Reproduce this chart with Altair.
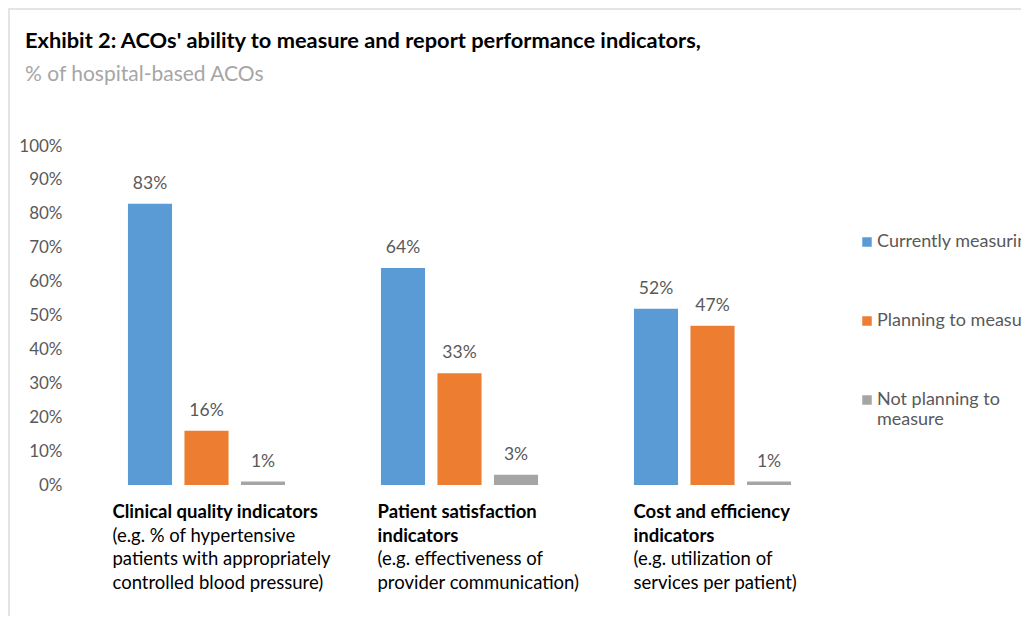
import altair as alt
import pandas as pd

groups = ["Clinical quality indicators", "Patient satisfaction indicators", "Cost and efficiency indicators"]
series = ["Currently measuring", "Planning to measure", "Not planning to measure"]
colors = ["#5B9BD5", "#ED7D31", "#A5A5A5"]
current = [83, 64, 52]
planning = [16, 33, 47]
not_planning = [1, 3, 1]

bold_lines = [["Clinical quality indicators"],
              ["Patient satisfaction", "indicators"],
              ["Cost and efficiency", "indicators"]]
detail_lines = [["(e.g. % of hypertensive", "patients with appropriately", "controlled blood pressure)"],
                ["(e.g. effectiveness of", "provider communication)"],
                ["(e.g. utilization of", "services per patient)"]]
y_ticks = list(range(0, 101, 10))

rows = []
for gi, g in enumerate(groups):
    for s, vals in zip(series, [current, planning, not_planning]):
        rows.append({"group": g, "series": s, "value": vals[gi]})
df = pd.DataFrame(rows)

W, H = 759, 339
PAD_L, PAD_T = 72, 138
TOTAL_W, TOTAL_H = 1013, 608
FONT = "Lato"
GRAY = "#595959"
LH = 23.7
FRAME_TOP = PAD_T - 1

x_scale = alt.Scale(type="band", paddingInner=0.33, paddingOuter=0.165)
x_enc = alt.X("group:N", sort=groups, axis=None, scale=x_scale)
xo_enc = alt.XOffset("series:N", sort=series,
                     scale=alt.Scale(paddingInner=0.22, paddingOuter=0.11))
y_enc = alt.Y("value:Q", scale=alt.Scale(domain=[0, 100]),
              axis=alt.Axis(values=y_ticks, labelExpr="datum.value + '%'", title=None,
                            ticks=False, domain=False, grid=False, labelPadding=18,
                            labelOverlap=False,
                            labelFontSize=17, labelColor=GRAY, labelFont=FONT))

# light frame around the exhibit (decoration)
frame = alt.Chart(pd.DataFrame({"f": [0]})).mark_rect(
    fill=None, stroke="#E4E4E4", strokeWidth=2
).encode(x=alt.value(-(PAD_L - 1)), y=alt.value(-FRAME_TOP),
         x2=alt.value(TOTAL_W + 40), y2=alt.value(TOTAL_H + 40))

base = alt.Chart(df)
bars = base.mark_bar().encode(
    x=x_enc, xOffset=xo_enc, y=y_enc,
    color=alt.Color("series:N", sort=series,
                    scale=alt.Scale(domain=series, range=colors),
                    legend=alt.Legend(title=None, orient="none", legendX=778, legendY=87,
                                      symbolType="square", symbolSize=90, symbolStrokeWidth=0,
                                      labelFontSize=18, labelColor=GRAY, labelFont=FONT,
                                      labelOffset=1, rowPadding=61, labelLimit=400,
                                      labelExpr="datum.label == 'Not planning to measure' ? ['Not planning to', 'measure'] : datum.label")),
)
labels = base.mark_text(baseline="alphabetic", dy=-15, fontSize=17.5, color=GRAY, font=FONT).encode(
    x=x_enc, xOffset=xo_enc, y=y_enc,
    text=alt.Text("label:N"),
).transform_calculate(label="datum.value + '%'")

label_dx = [-94, -82, -79]
layers = [frame, bars, labels]
for gi, g in enumerate(groups):
    ldf = pd.DataFrame({"group": [g], "bold": ["\n".join(bold_lines[gi])],
                        "detail": ["\n".join(detail_lines[gi])]})
    lb = alt.Chart(ldf).mark_text(align="left", baseline="top", dx=label_dx[gi], fontSize=18.5,
                                  fontWeight="bold", font=FONT, color="black",
                                  lineBreak="\n", lineHeight=LH).encode(
        x=x_enc, y=alt.value(H + 18), text="bold:N")
    ld = alt.Chart(ldf).mark_text(align="left", baseline="top", dx=label_dx[gi],
                                  dy=LH * len(bold_lines[gi]), fontSize=18.5,
                                  font=FONT, color="black",
                                  lineBreak="\n", lineHeight=LH).encode(
        x=x_enc, y=alt.value(H + 18), text="detail:N")
    layers += [lb, ld]

chart = alt.layer(*layers).properties(
    width=W, height=H,
    title=alt.TitleParams(text="Exhibit 2: ACOs' ability to measure and report performance indicators,",
                          subtitle="% of hospital-based ACOs", anchor="start", frame="group", dx=-55,
                          font=FONT, fontSize=21.8, fontWeight="bold", color="black",
                          subtitleFont=FONT, subtitleFontSize=21, subtitleColor="#A6A6A6",
                          subtitlePadding=11, offset=60 - FRAME_TOP),
    autosize=alt.AutoSizeParams(type="none"),
    padding={"left": PAD_L, "top": PAD_T, "right": TOTAL_W - PAD_L - W, "bottom": TOTAL_H - PAD_T - H},
).configure_view(stroke=None)

chart.save("out.html", embed_options={"renderer": "svg", "actions": False})
